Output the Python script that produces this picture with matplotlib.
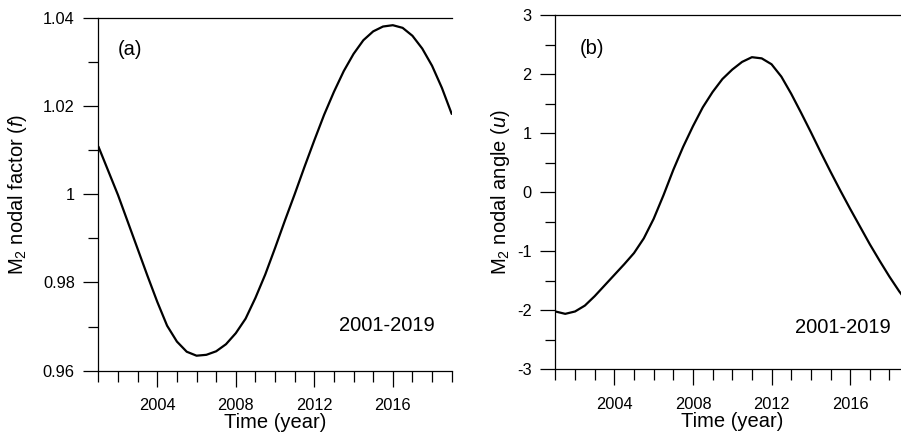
import matplotlib
matplotlib.use("Agg")
import matplotlib.pyplot as plt
from matplotlib.ticker import MultipleLocator, FixedLocator, FixedFormatter

plt.rcParams['font.family'] = ['Liberation Sans', 'DejaVu Sans']
plt.rcParams['mathtext.fontset'] = 'custom'
plt.rcParams['mathtext.rm'] = 'Liberation Sans'
plt.rcParams['mathtext.it'] = 'Liberation Sans:italic'

# ---- data ----
years = [2001.0, 2001.5, 2002.0, 2002.5, 2003.0, 2003.5, 2004.0, 2004.5, 2005.0, 2005.5,
         2006.0, 2006.5, 2007.0, 2007.5, 2008.0, 2008.5, 2009.0, 2009.5, 2010.0, 2010.5,
         2011.0, 2011.5, 2012.0, 2012.5, 2013.0, 2013.5, 2014.0, 2014.5, 2015.0, 2015.5,
         2016.0, 2016.5, 2017.0, 2017.5, 2018.0, 2018.5, 2019.0]

nodal_factor_f = [1.0108, 1.0053, 0.9998, 0.9937, 0.9876, 0.9815, 0.9756, 0.9702, 0.9666, 0.9643,
                  0.9634, 0.9636, 0.9644, 0.9660, 0.9685, 0.9718, 0.9765, 0.9818, 0.9878, 0.9940,
                  1.0000, 1.0062, 1.0122, 1.0180, 1.0232, 1.0279, 1.0318, 1.0349, 1.0369, 1.0380,
                  1.0383, 1.0377, 1.0359, 1.0330, 1.0291, 1.0241, 1.0182]

nodal_angle_u = [-2.02, -2.06, -2.02, -1.92, -1.76, -1.58, -1.40, -1.22, -1.03, -0.78,
                 -0.45, -0.05, 0.38, 0.77, 1.12, 1.44, 1.70, 1.92, 2.08, 2.21,
                 2.29, 2.27, 2.17, 1.96, 1.67, 1.35, 1.02, 0.68, 0.35, 0.03,
                 -0.28, -0.58, -0.88, -1.16, -1.43, -1.68, -1.90]

x_major = [2004, 2008, 2012, 2016]
x_major_labels = ['2004', '2008', '2012', '2016']
f_ticks = [0.96, 0.98, 1.00, 1.02, 1.04]
f_tick_labels = ['0.96', '0.98', '1', '1.02', '1.04']
u_ticks = [-3, -2, -1, 0, 1, 2, 3]
u_tick_labels = ['-3', '-2', '-1', '0', '1', '2', '3']

W, H = 901, 434
fig = plt.figure(figsize=(W / 100, H / 100), dpi=100)

ax1 = fig.add_axes([98.4 / W, (H - 370.7) / H, 353.3 / W, 353.0 / H])
ax2 = fig.add_axes([555.4 / W, (H - 369.3) / H, 353.7 / W, 354.0 / H])

TICK_FS = 11.8
LAB_FS = 14.5


def style(ax, yticks, ylabels, yminor):
    ax.set_xlim(2001, 2019)
    ax.spines['right'].set_visible(False)
    for s in ['left', 'bottom', 'top']:
        ax.spines[s].set_linewidth(0.9)
    ax.xaxis.set_major_locator(FixedLocator(x_major))
    ax.xaxis.set_major_formatter(FixedFormatter(x_major_labels))
    ax.xaxis.set_minor_locator(MultipleLocator(1))
    ax.yaxis.set_major_locator(FixedLocator(yticks))
    ax.yaxis.set_major_formatter(FixedFormatter(ylabels))
    ax.yaxis.set_minor_locator(MultipleLocator(yminor))
    ax.tick_params(axis='both', which='both', direction='out', width=0.9,
                   top=False, right=False, labelsize=TICK_FS)
    ax.tick_params(axis='x', which='major', length=11.5, pad=8.5)
    ax.tick_params(axis='x', which='minor', length=8)
    ax.tick_params(axis='y', which='major', length=11, pad=6)
    ax.tick_params(axis='y', which='minor', length=7.5)
    ax.set_xlabel('Time (year)', fontsize=LAB_FS, labelpad=0)


ax1.plot(years, nodal_factor_f, color='black', lw=1.6, solid_capstyle='round',
         solid_joinstyle='round')
ax1.set_ylim(0.96, 1.04)
style(ax1, f_ticks, f_tick_labels, 0.01)
ax1.set_ylabel('M$_2$ nodal factor ($f$)', fontsize=LAB_FS)
ax1.yaxis.set_label_coords(-0.196, 0.5)
ax1.text(0.056, 0.9085, '(a)', transform=ax1.transAxes, fontsize=LAB_FS,
         ha='left', va='center')
ax1.text(0.953, 0.129, '2001-2019', transform=ax1.transAxes, fontsize=LAB_FS,
         ha='right', va='center')

ax2.plot(years, nodal_angle_u, color='black', lw=1.6, solid_capstyle='round',
         solid_joinstyle='round')
ax2.set_ylim(-3, 3)
style(ax2, u_ticks, u_tick_labels, 0.5)
ax2.set_ylabel('M$_2$ nodal angle ($u$)', fontsize=LAB_FS)
ax2.yaxis.set_label_coords(-0.123, 0.5)
ax2.text(0.0676, 0.907, '(b)', transform=ax2.transAxes, fontsize=LAB_FS,
         ha='left', va='center')
ax2.text(0.948, 0.118, '2001-2019', transform=ax2.transAxes, fontsize=LAB_FS,
         ha='right', va='center')

fig.savefig('out.png', dpi=100)
